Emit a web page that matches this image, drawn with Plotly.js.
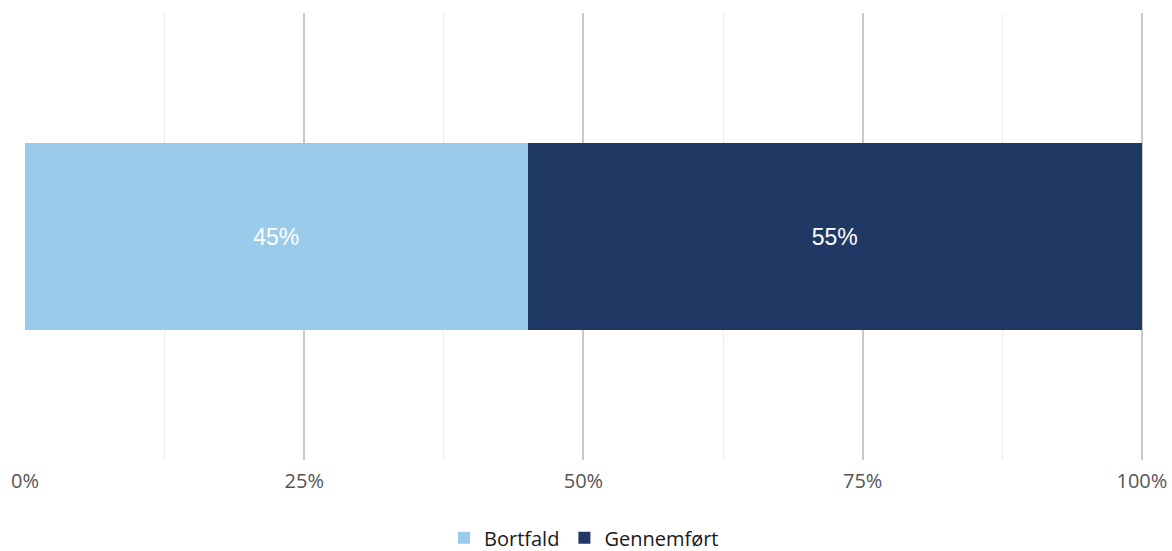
<!DOCTYPE html>
<html>
<head>
<meta charset="utf-8">
<script src="https://cdn.plot.ly/plotly-3.0.1.min.js"></script>
<style>html,body{margin:0;padding:0;background:#fff;}#chart{width:1172px;height:551px;}</style>
</head>
<body>
<div id="chart"></div>
<script>
const category = [""];
const seriesNames = ["Bortfald", "Gennemført"];
const bortfald = [45];
const gennemfoert = [55];
const seriesColors = ["#9BCBEB", "#203864"];
const tickVals = [0, 25, 50, 75, 100];
const tickText = ["0%", "25%", "50%", "75%", "100%"];

const values = [bortfald, gennemfoert];
const traces = values.map((v, i) => ({
  type: "bar",
  orientation: "h",
  name: seriesNames[i],
  x: v,
  y: category,
  marker: {color: seriesColors[i], line: {width: 0}},
  text: v.map(d => d + "%"),
  textposition: "inside",
  insidetextanchor: "middle",
  textfont: {family: "Liberation Sans, Arial, sans-serif", size: 23, color: "#ffffff"},
  hoverinfo: "skip",
  width: 0.42
}));

const layout = {
  width: 1172, height: 551,
  margin: {l: 25, r: 29, t: 13, b: 91, autoexpand: false},
  barmode: "stack",
  paper_bgcolor: "#ffffff",
  plot_bgcolor: "#ffffff",
  showlegend: true,
  legend: {
    orientation: "h", x: 0.5, xanchor: "center",
    yref: "container", y: 0.024, yanchor: "middle",
    font: {family: "Open Sans, sans-serif", size: 20, color: "#1a1a1a"},
    traceorder: "normal", itemwidth: 30
  },
  xaxis: {
    range: [0, 100.1],
    tickvals: tickVals, ticktext: tickText,
    showgrid: true, gridcolor: "#c8c8c8", gridwidth: 2,
    minor: {dtick: 12.5, showgrid: true, gridcolor: "#ededed", gridwidth: 1},
    zeroline: false, showline: false, ticks: "",
    ticklabelstandoff: 7,
    tickfont: {family: "Open Sans, sans-serif", size: 20, color: "#555555"},
    fixedrange: true
  },
  yaxis: {
    range: [-0.5, 0.5], showgrid: false, zeroline: false, showticklabels: false, fixedrange: true
  }
};
Plotly.newPlot("chart", traces, layout, {displayModeBar: false, staticPlot: true});
</script>
</body>
</html>
